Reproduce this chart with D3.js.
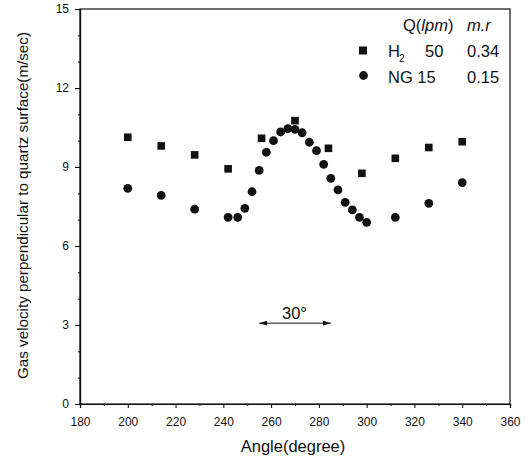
<!DOCTYPE html>
<html>
<head>
<meta charset="utf-8">
<script src="https://cdn.jsdelivr.net/npm/d3@7"></script>
<style>
  body { margin: 0; background: #fff; }
  text { font-family: "Liberation Sans", Arial, sans-serif; fill: #111; }
</style>
</head>
<body>
<div id="chart"></div>
<script>
// H2 50 lpm, m.r 0.34 (squares)
var h2Angle = [200, 214, 228, 242, 256, 270, 284, 298, 312, 326, 340];
var h2Vel   = [10.13, 9.8, 9.46, 8.93, 10.09, 10.76, 9.71, 8.76, 9.33, 9.74, 9.96];

// NG 15 lpm, m.r 0.15 (circles)
var ngAngle = [200, 214, 228, 242, 246, 249, 252, 255, 258, 261, 264, 267, 270,
               273, 276, 279, 282, 285, 288, 291, 294, 297, 300, 312, 326, 340];
var ngVel   = [8.19, 7.92, 7.4, 7.09, 7.09, 7.43, 8.06, 8.87, 9.56, 10.0, 10.33, 10.46, 10.43,
               10.3, 9.94, 9.62, 9.1, 8.57, 8.13, 7.66, 7.37, 7.09, 6.9, 7.09, 7.62, 8.41];

var xTicks = [180, 200, 220, 240, 260, 280, 300, 320, 340, 360];
var yTicks = [0, 3, 6, 9, 12, 15];
var arrowSpan = [255, 285];
var arrowLevel = 3.07;

var width = 530,
    height = 459;
var margin = {left: 80, right: 20, top: 9, bottom: 55};

var svg = d3.select('#chart')
            .append('svg')
            .attr('width', width)
            .attr('height', height);

var x = d3.scaleLinear().domain([180, 360]).range([margin.left, width - margin.right]);
var y = d3.scaleLinear().domain([0, 15]).range([height - margin.bottom, margin.top]);

// frame
svg.append('rect')
   .attr('x', x(180)).attr('y', y(15))
   .attr('width', x(360) - x(180)).attr('height', y(0) - y(15))
   .attr('fill', 'none').attr('stroke', '#111').attr('stroke-width', 1.2);

// ticks, minor then major
var gx = svg.append('g').attr('transform', 'translate(0,' + y(0) + ')');
gx.append('g').call(d3.axisBottom(x).tickValues(d3.range(190, 360, 20)).tickSize(2).tickFormat(''));
gx.append('g').call(d3.axisBottom(x).tickValues(xTicks).tickSize(4).tickPadding(9).tickFormat(d3.format('d')));
gx.selectAll('.domain').attr('stroke', '#111').attr('stroke-width', 1.2);
gx.selectAll('text').attr('font-size', 12);

var gy = svg.append('g').attr('transform', 'translate(' + x(180) + ',0)');
gy.append('g').call(d3.axisLeft(y).tickValues(d3.range(1, 15, 1).filter(function(v) { return v % 3 != 0; }))
          .tickSize(2).tickFormat(''));
gy.append('g').call(d3.axisLeft(y).tickValues(yTicks).tickSize(5).tickPadding(6).tickFormat(d3.format('d')));
gy.selectAll('.domain').attr('stroke', '#111').attr('stroke-width', 1.2);
gy.selectAll('text').attr('font-size', 12);

// axis titles
svg.append('text')
   .attr('x', (x(180) + x(360)) / 2 - 2).attr('y', 452)
   .attr('text-anchor', 'middle').attr('font-size', 16.5)
   .text('Angle(degree)');

svg.append('text')
   .attr('transform', 'translate(28,' + (y(7.5) - 1) + ') rotate(-90)')
   .attr('text-anchor', 'middle').attr('font-size', 15.2)
   .text('Gas velocity perpendicular to quartz surface(m/sec)');

// data
svg.selectAll('.sq').data(h2Angle).enter()
   .append('rect').attr('class', 'sq')
   .attr('x', function(d) { return x(d) - 3.8; })
   .attr('y', function(d, i) { return y(h2Vel[i]) - 3.8; })
   .attr('width', 7.6).attr('height', 7.6)
   .attr('fill', '#111');

svg.selectAll('.ci').data(ngAngle).enter()
   .append('circle').attr('class', 'ci')
   .attr('cx', function(d) { return x(d); })
   .attr('cy', function(d, i) { return y(ngVel[i]); })
   .attr('r', 4.4)
   .attr('fill', '#111');

// 30 degree arrow
var defs = svg.append('defs');
defs.append('marker').attr('id', 'ah')
    .attr('viewBox', '0 0 8 5').attr('refX', 8).attr('refY', 2.5)
    .attr('markerWidth', 8).attr('markerHeight', 5).attr('markerUnits', 'userSpaceOnUse')
    .attr('orient', 'auto-start-reverse')
    .append('path').attr('d', 'M0,0 L8,2.5 L0,5 Z').attr('fill', '#111');

svg.append('line')
   .attr('x1', x(arrowSpan[0])).attr('x2', x(arrowSpan[1]))
   .attr('y1', y(arrowLevel)).attr('y2', y(arrowLevel))
   .attr('stroke', '#111').attr('stroke-width', 1)
   .attr('marker-start', 'url(#ah)').attr('marker-end', 'url(#ah)');

svg.append('text')
   .attr('x', 282).attr('y', y(arrowLevel) - 4)
   .attr('font-size', 16.5)
   .text('30°');

// legend
var lg = svg.append('g').attr('font-size', 16.5);
var head = lg.append('text').attr('x', 403).attr('y', 31);
head.append('tspan').text('Q(');
head.append('tspan').attr('font-style', 'italic').text('lpm');
head.append('tspan').text(')');
lg.append('text').attr('x', 467).attr('y', 31).attr('font-style', 'italic').text('m.r');

lg.append('rect').attr('x', 359).attr('y', 46.5).attr('width', 8).attr('height', 8).attr('fill', '#111');
var r1 = lg.append('text').attr('x', 388).attr('y', 57);
r1.append('tspan').text('H');
r1.append('tspan').attr('font-size', 10).attr('dy', 5).attr('dx', -1).text('2');
lg.append('text').attr('x', 425).attr('y', 57).text('50');
lg.append('text').attr('x', 467).attr('y', 57).text('0.34');

lg.append('circle').attr('cx', 363.5).attr('cy', 75.5).attr('r', 4.4).attr('fill', '#111');
lg.append('text').attr('x', 388).attr('y', 83).text('NG 15');
lg.append('text').attr('x', 467).attr('y', 83).text('0.15');
</script>
</body>
</html>
